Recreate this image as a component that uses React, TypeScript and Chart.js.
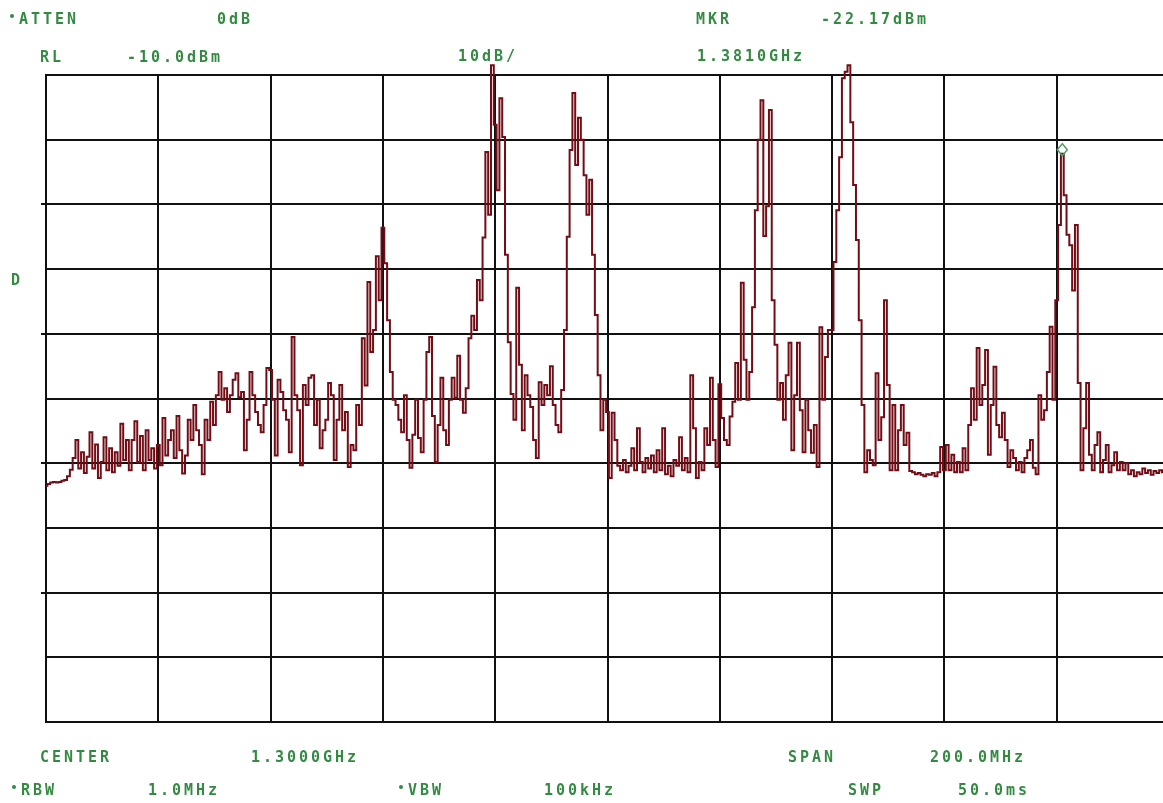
import { useEffect, useRef } from "react";
import { Chart, registerables } from "chart.js";

Chart.register(...registerables);

// Sweep settings of the analyzer display
const START_MHZ = 1200;
const STOP_MHZ = 1400;
const STEP_MHZ = 0.5;
const REF_LEVEL_DBM = -10;
const BOTTOM_DBM = -110;
const FREQ_DIV_MHZ = 20;
const DB_PER_DIV = 10;

// Measured trace, one reading per 0.5 MHz from 1200 MHz to 1400 MHz (dBm)
const traceDbm = [
  -73.5, -73.2, -73.0, -72.9, -73.0, -72.9, -72.7, -72.6, -72.0, -71.0,
  -69.2, -66.4, -70.8, -68.3, -71.5, -69.0, -65.2, -70.8, -67.1, -72.3,
  -69.8, -66.0, -71.1, -67.7, -71.4, -68.3, -70.4, -63.9, -69.5, -66.4,
  -71.1, -66.4, -63.5, -69.8, -65.8, -71.1, -64.9, -69.5, -67.7, -70.8,
  -67.2, -70.3, -63.0, -68.8, -66.4, -64.9, -69.2, -62.7, -68.0, -71.6,
  -68.8, -63.3, -66.4, -61.0, -64.9, -67.2, -71.7, -63.3, -66.4, -60.5,
  -64.1, -59.5, -55.9, -60.2, -58.4, -62.1, -59.5, -57.1, -56.1, -59.8,
  -59.0, -68.0, -63.3, -55.9, -59.5, -62.1, -64.1, -65.2, -61.0, -55.3,
  -55.6, -60.2, -68.8, -57.1, -59.0, -61.8, -63.3, -68.3, -50.5, -59.5,
  -61.8, -70.3, -57.9, -61.0, -56.8, -56.4, -64.1, -60.2, -67.7, -64.9,
  -63.3, -57.6, -59.5, -69.5, -63.3, -57.9, -64.9, -62.1, -70.6, -67.2,
  -68.0, -61.0, -64.1, -50.7, -58.0, -42.0, -52.8, -49.4, -38.0, -44.8,
  -33.6, -39.1, -47.9, -55.9, -60.2, -61.0, -63.3, -65.2, -59.5, -66.4,
  -70.7, -65.6, -60.2, -66.1, -68.3, -60.2, -52.8, -50.5, -62.7, -69.8,
  -64.1, -56.8, -64.9, -67.2, -60.2, -56.8, -59.9, -53.4, -60.2, -62.2,
  -58.4, -50.7, -47.2, -49.4, -41.7, -44.8, -35.1, -21.9, -31.6, -8.5,
  -17.7, -27.8, -13.6, -19.6, -37.8, -51.3, -59.3, -63.3, -42.9, -54.8,
  -64.9, -56.4, -59.5, -61.3, -66.4, -69.2, -57.5, -61.0, -57.9, -59.5,
  -55.0, -61.0, -64.1, -65.2, -58.7, -49.4, -35.0, -21.6, -12.8, -23.9,
  -16.6, -20.0, -25.5, -31.6, -26.2, -37.8, -47.1, -56.4, -64.9, -60.2,
  -62.1, -72.3, -62.2, -66.4, -70.4, -71.1, -69.5, -71.4, -70.4, -67.7,
  -71.1, -64.6, -69.8, -71.4, -69.2, -70.8, -68.8, -71.4, -68.0, -71.1,
  -64.6, -71.7, -70.4, -72.0, -69.5, -70.4, -66.0, -71.1, -69.2, -71.4,
  -56.4, -64.6, -72.3, -69.8, -71.1, -64.6, -67.2, -56.8, -66.4, -70.6,
  -57.8, -63.0, -66.4, -67.2, -62.8, -60.5, -54.5, -60.2, -42.1, -54.0,
  -60.2, -55.9, -45.9, -30.9, -20.0, -13.9, -34.9, -30.3, -15.4, -44.8,
  -51.7, -60.2, -57.6, -63.3, -56.4, -51.4, -68.0, -59.5, -51.4, -61.8,
  -68.3, -60.2, -64.9, -68.4, -64.1, -70.6, -49.0, -60.2, -53.6, -49.4,
  -49.4, -38.9, -30.9, -22.7, -10.5, -9.5, -8.5, -17.3, -27.0, -35.5,
  -47.9, -61.0, -71.4, -68.0, -69.5, -70.3, -56.1, -66.4, -62.9, -44.8,
  -57.9, -71.1, -61.0, -71.1, -64.9, -61.0, -67.2, -65.3, -71.2, -71.4,
  -71.7, -71.5, -71.8, -72.0, -71.7, -71.8, -71.5, -72.0, -71.4, -67.5,
  -71.1, -67.2, -71.1, -68.7, -71.4, -69.8, -71.4, -67.7, -71.1, -64.1,
  -58.4, -63.3, -52.2, -61.0, -57.9, -52.5, -68.7, -61.0, -55.1, -64.1,
  -66.0, -62.2, -66.4, -70.6, -68.0, -69.2, -71.1, -69.8, -71.4, -69.2,
  -68.0, -66.4, -70.7, -71.7, -59.5, -63.3, -61.8, -55.9, -48.9, -60.2,
  -44.8, -33.2, -22.17, -28.6, -34.7, -36.3, -43.3, -33.2, -57.6, -71.1,
  -64.6, -57.6, -68.7, -71.1, -67.2, -65.2, -71.4, -69.5, -67.2, -71.4,
  -70.3, -68.3, -71.1, -69.8, -71.1, -70.0, -71.7, -71.1, -72.0, -71.4,
  -71.7, -70.8, -71.5, -71.1, -71.8, -71.2, -71.5, -71.1, -71.4, -71.7, -71.5,
];

// Active marker
const markerMhz = 1381.0;
const markerDbm = -22.17;

// Annotation text around the graticule
const headerTexts = ["ATTEN", "0dB", "MKR", "-22.17dBm", "RL", "-10.0dBm", "10dB/", "1.3810GHz", "D"];
const footerTexts = ["CENTER", "1.3000GHz", "SPAN", "200.0MHz", "RBW", "1.0MHz", "VBW", "100kHz", "SWP", "50.0ms"];

const TRACE_COLOR = "#720c15";
const GRID_COLOR = "#111111";
const TEXT_COLOR = "#348a42";
const MARKER_COLOR = "#4f9e62";

// Screen placement of each annotation: [text, left x, centre y, bullet]
const annotationLayout: [string, number, number, boolean][] = [
  [headerTexts[0], 19, 20, true],
  [headerTexts[1], 217, 20, false],
  [headerTexts[2], 696, 20, false],
  [headerTexts[3], 821, 20, false],
  [headerTexts[4], 40, 58, false],
  [headerTexts[5], 127, 58, false],
  [headerTexts[6], 458, 57, false],
  [headerTexts[7], 697, 57, false],
  [headerTexts[8], 11, 281, false],
  [footerTexts[0], 40, 758, false],
  [footerTexts[1], 251, 758, false],
  [footerTexts[2], 788, 758, false],
  [footerTexts[3], 930, 758, false],
  [footerTexts[4], 21, 791, true],
  [footerTexts[5], 148, 791, false],
  [footerTexts[6], 408, 791, true],
  [footerTexts[7], 544, 791, false],
  [footerTexts[8], 848, 791, false],
  [footerTexts[9], 958, 791, false],
];

const CHAR_PITCH = 12.0;

function drawMonoText(ctx: CanvasRenderingContext2D, text: string, x: number, y: number) {
  for (let i = 0; i < text.length; i++) {
    ctx.fillText(text[i], x + i * CHAR_PITCH, y);
  }
}

const overlayPlugin = {
  id: "analyzerOverlay",
  afterDraw(chart: any) {
    const ctx: CanvasRenderingContext2D = chart.ctx;
    const area = chart.chartArea;
    const xs = chart.scales.x;
    const ys = chart.scales.y;
    ctx.save();

    // short outside ticks on every second graticule line
    ctx.strokeStyle = GRID_COLOR;
    ctx.lineWidth = 2;
    for (let v = REF_LEVEL_DBM - 2 * DB_PER_DIV; v > BOTTOM_DBM; v -= 2 * DB_PER_DIV) {
      const y = Math.round(ys.getPixelForValue(v));
      ctx.beginPath();
      ctx.moveTo(area.left - 5, y);
      ctx.lineTo(area.left, y);
      ctx.stroke();
    }

    // marker diamond sitting on the trace
    const mx = xs.getPixelForValue(markerMhz);
    const my = ys.getPixelForValue(markerDbm) - 4;
    ctx.strokeStyle = MARKER_COLOR;
    ctx.lineWidth = 1.5;
    ctx.beginPath();
    ctx.moveTo(mx, my - 6);
    ctx.lineTo(mx + 5, my);
    ctx.lineTo(mx, my + 6);
    ctx.lineTo(mx - 5, my);
    ctx.closePath();
    ctx.stroke();

    // annotation text
    ctx.fillStyle = TEXT_COLOR;
    ctx.font = 'bold 15px "DejaVu Sans Mono", "Liberation Mono", monospace';
    ctx.textBaseline = "middle";
    ctx.textAlign = "left";
    for (const [text, x, y, bullet] of annotationLayout) {
      if (bullet) {
        ctx.beginPath();
        ctx.arc(x - 7, y - 4, 2, 0, Math.PI * 2);
        ctx.fill();
      }
      drawMonoText(ctx, text, x, y);
    }
    ctx.restore();
  },
};

export default function App() {
  const canvasRef = useRef<HTMLCanvasElement | null>(null);

  useEffect(() => {
    const canvas = canvasRef.current;
    if (!canvas) return;
    const points = traceDbm.map((v, i) => ({ x: START_MHZ + i * STEP_MHZ, y: v }));

    const chart = new Chart(canvas, {
      type: "line",
      data: {
        datasets: [
          {
            data: points,
            borderColor: TRACE_COLOR,
            borderWidth: 2,
            pointRadius: 0,
            stepped: "middle",
            fill: false,
            clip: false,
          },
        ],
      },
      options: {
        animation: false,
        responsive: false,
        devicePixelRatio: 1,
        events: [],
        layout: { padding: { left: 46, top: 75, right: 11, bottom: 81 } },
        plugins: { legend: { display: false }, tooltip: { enabled: false }, title: { display: false } },
        scales: {
          x: {
            type: "linear",
            min: START_MHZ,
            max: STOP_MHZ,
            ticks: { display: false, stepSize: FREQ_DIV_MHZ },
            grid: { color: GRID_COLOR, lineWidth: 2, drawTicks: false },
            border: { display: true, color: GRID_COLOR, width: 2 },
          },
          y: {
            type: "linear",
            min: BOTTOM_DBM,
            max: REF_LEVEL_DBM,
            ticks: { display: false, stepSize: DB_PER_DIV },
            grid: { color: GRID_COLOR, lineWidth: 2, drawTicks: false },
            border: { display: true, color: GRID_COLOR, width: 2 },
          },
        },
      },
      plugins: [overlayPlugin],
    });
    return () => chart.destroy();
  }, []);

  return (
    <div
      style={{
        position: "fixed",
        left: 0,
        top: 0,
        width: 1163,
        height: 803,
        overflow: "hidden",
        background: "#ffffff",
      }}
    >
      <canvas ref={canvasRef} width={1180} height={803} style={{ display: "block" }} />
    </div>
  );
}
